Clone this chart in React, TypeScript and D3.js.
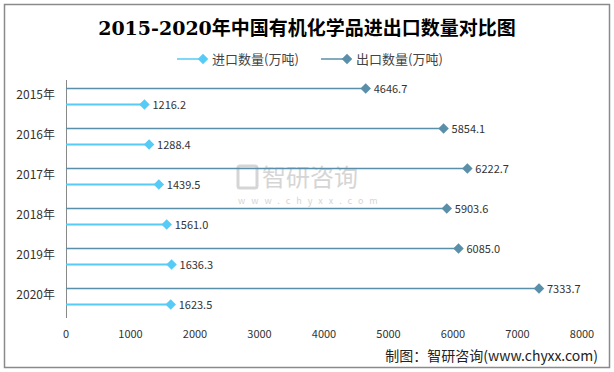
import React, { useRef, useEffect } from 'react';
import * as d3 from 'd3';

const years = ['2015年', '2016年', '2017年', '2018年', '2019年', '2020年'];
const importVals = [1216.2, 1288.4, 1439.5, 1561.0, 1636.3, 1623.5];
const exportVals = [4646.7, 5854.1, 6222.7, 5903.6, 6085.0, 7333.7];
const xTicks = [0, 1000, 2000, 3000, 4000, 5000, 6000, 7000, 8000];
const seriesNames = ['进口数量(万吨)', '出口数量(万吨)'];

const IMPORT_COLOR = '#55CBF6';
const EXPORT_COLOR = '#5A8FA9';
const FONT = '"Noto Sans CJK SC", "DejaVu Sans", sans-serif';

const App = () => {
  const svgRef = useRef<SVGSVGElement>(null);

  useEffect(() => {
    const W = 614;
    const svg = d3.select(svgRef.current);
    svg.selectAll('*').remove();

    // outer frame
    svg.append('rect')
      .attr('x', 4.5).attr('y', 4.5)
      .attr('width', 605).attr('height', 363)
      .attr('fill', '#fff')
      .attr('stroke', '#8a8a8a')
      .attr('stroke-width', 1.5);

    // title
    svg.append('text')
      .attr('x', W / 2).attr('y', 35)
      .attr('text-anchor', 'middle')
      .attr('font-family', '"DejaVu Serif", "Noto Sans CJK SC", serif')
      .attr('font-weight', 'bold')
      .attr('font-size', 19)
      .attr('fill', '#000')
      .text('2015-2020年中国有机化学品进出口数量对比图');

    const x = d3.scaleLinear().domain([0, 8000]).range([66, 582]);
    const y = d3.scaleBand().domain(years).range([80, 320]);

    // watermark
    const wm = svg.append('g').attr('fill', '#d5d5d5').attr('font-family', FONT);
    wm.append('rect').attr('x', 238).attr('y', 166).attr('width', 19).attr('height', 22)
      .attr('fill', 'none').attr('stroke', '#d5d5d5').attr('stroke-width', 3).attr('rx', 2);
    wm.append('text').attr('x', 262).attr('y', 186).attr('font-size', 24).text('智研咨询');
    wm.append('text').attr('x', 238).attr('y', 204).attr('font-size', 9)
      .attr('letter-spacing', 6).text('www.chyxx.com');

    // axis line
    svg.append('line')
      .attr('x1', 66.5).attr('x2', 66.5)
      .attr('y1', 80).attr('y2', 318)
      .attr('stroke', '#888').attr('stroke-width', 1);

    // x tick labels
    svg.append('g')
      .selectAll('text')
      .data(xTicks)
      .enter()
      .append('text')
      .attr('x', d => x(d))
      .attr('y', 338)
      .attr('text-anchor', 'middle')
      .attr('font-family', FONT)
      .attr('font-size', 11)
      .attr('fill', '#333')
      .text(d => d);

    // category labels
    svg.append('g')
      .selectAll('text')
      .data(years)
      .enter()
      .append('text')
      .attr('x', 55)
      .attr('y', d => (y(d) as number) + 19)
      .attr('text-anchor', 'end')
      .attr('font-family', FONT)
      .attr('font-size', 12)
      .attr('fill', '#333')
      .text(d => d);

    const diamond = d3.symbol().type(d3.symbolDiamond2).size(70);

    const drawSeries = (vals: number[], offset: number, color: string, width: number) => {
      const g = svg.append('g');
      vals.forEach((v, i) => {
        const cy = (y(years[i]) as number) + offset;
        g.append('line')
          .attr('x1', x(0)).attr('x2', x(v))
          .attr('y1', cy).attr('y2', cy)
          .attr('stroke', color).attr('stroke-width', width);
        g.append('path')
          .attr('d', diamond)
          .attr('transform', `translate(${x(v)},${cy})`)
          .attr('fill', color);
        g.append('text')
          .attr('x', x(v) + 8)
          .attr('y', cy + 4)
          .attr('font-family', FONT)
          .attr('font-size', 11)
          .attr('fill', '#333')
          .text(v.toFixed(1));
      });
    };

    drawSeries(exportVals, 8.5, EXPORT_COLOR, 1.5);
    drawSeries(importVals, 24.5, IMPORT_COLOR, 2);

    // legend
    const legend = svg.append('g').attr('font-family', FONT).attr('font-size', 13).attr('fill', '#444');
    [
      { name: seriesNames[0], color: IMPORT_COLOR, x0: 177 },
      { name: seriesNames[1], color: EXPORT_COLOR, x0: 321 },
    ].forEach(item => {
      legend.append('line')
        .attr('x1', item.x0).attr('x2', item.x0 + 24)
        .attr('y1', 59).attr('y2', 59)
        .attr('stroke', item.color).attr('stroke-width', 1.5);
      legend.append('path')
        .attr('d', diamond)
        .attr('transform', `translate(${item.x0 + 26},59)`)
        .attr('fill', item.color);
      legend.append('text')
        .attr('x', item.x0 + 35)
        .attr('y', 64)
        .text(item.name);
    });

    // source
    svg.append('text')
      .attr('x', 598).attr('y', 361)
      .attr('text-anchor', 'end')
      .attr('font-family', FONT)
      .attr('font-size', 14)
      .attr('fill', '#222')
      .text('制图：智研咨询(www.chyxx.com)');
  }, []);

  return (
    <svg
      ref={svgRef}
      width={614}
      height={372}
      style={{ position: 'absolute', left: 0, top: 0, background: '#fff' }}
    />
  );
};

export default App;
